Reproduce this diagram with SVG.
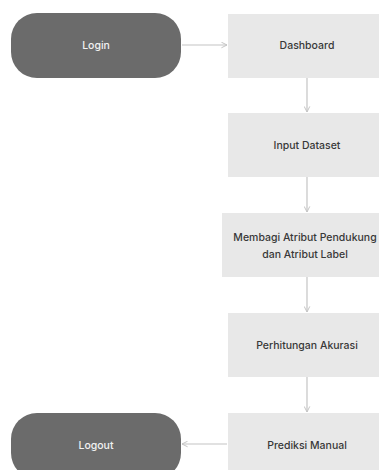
<svg xmlns="http://www.w3.org/2000/svg" width="379" height="470" viewBox="0 0 379 470">
<defs>
<style>
.term{fill:#6b6b6b}
.box{fill:#e8e8e8}
.tt{font-family:Inter,"Liberation Sans",sans-serif;font-size:10.5px;font-weight:500;text-anchor:middle;fill:#f2f2f2}
.bt{font-family:Inter,"Liberation Sans",sans-serif;font-size:10.5px;font-weight:500;text-anchor:middle;fill:#383838}
.c{stroke:#c4c4c4;stroke-width:1.2;fill:none}
</style>
<marker id="ah" viewBox="0 0 10 10" refX="9" refY="5" markerWidth="7" markerHeight="7" orient="auto" markerUnits="userSpaceOnUse">
<path d="M1,1 L9,5 L1,9" fill="none" stroke="#c4c4c4" stroke-width="1.4"/>
</marker>
</defs>
<rect width="379" height="470" fill="#ffffff"/>
<g id="login"><rect class="term" x="11" y="13" width="170" height="65" rx="26"/><text class="tt" x="96" y="49">Login</text></g>
<g id="dashboard"><rect class="box" x="228" y="14" width="160" height="64"/><text class="bt" x="307" y="49">Dashboard</text></g>
<g id="input"><rect class="box" x="228" y="113" width="160" height="64"/><text class="bt" x="307" y="149">Input Dataset</text></g>
<g id="membagi"><rect class="box" x="222" y="213" width="166" height="64"/><text class="bt" x="305" y="241">Membagi Atribut Pendukung</text><text class="bt" x="305" y="258">dan Atribut Label</text></g>
<g id="perhitungan"><rect class="box" x="228" y="313" width="160" height="64"/><text class="bt" x="307" y="349">Perhitungan Akurasi</text></g>
<g id="prediksi"><rect class="box" x="228" y="413" width="160" height="66"/><text class="bt" x="307" y="449">Prediksi Manual</text></g>
<g id="logout"><rect class="term" x="11" y="413" width="170" height="66" rx="26"/><text class="tt" x="96" y="449">Logout</text></g>
<g id="connectors">
<line class="c" x1="182" y1="45" x2="227" y2="45" marker-end="url(#ah)"/>
<line class="c" x1="307" y1="78" x2="307" y2="112" marker-end="url(#ah)"/>
<line class="c" x1="307" y1="177" x2="307" y2="212" marker-end="url(#ah)"/>
<line class="c" x1="307" y1="277" x2="307" y2="312" marker-end="url(#ah)"/>
<line class="c" x1="307" y1="377" x2="307" y2="412" marker-end="url(#ah)"/>
<line class="c" x1="227" y1="444" x2="182" y2="444" marker-end="url(#ah)"/>
</g>
</svg>
